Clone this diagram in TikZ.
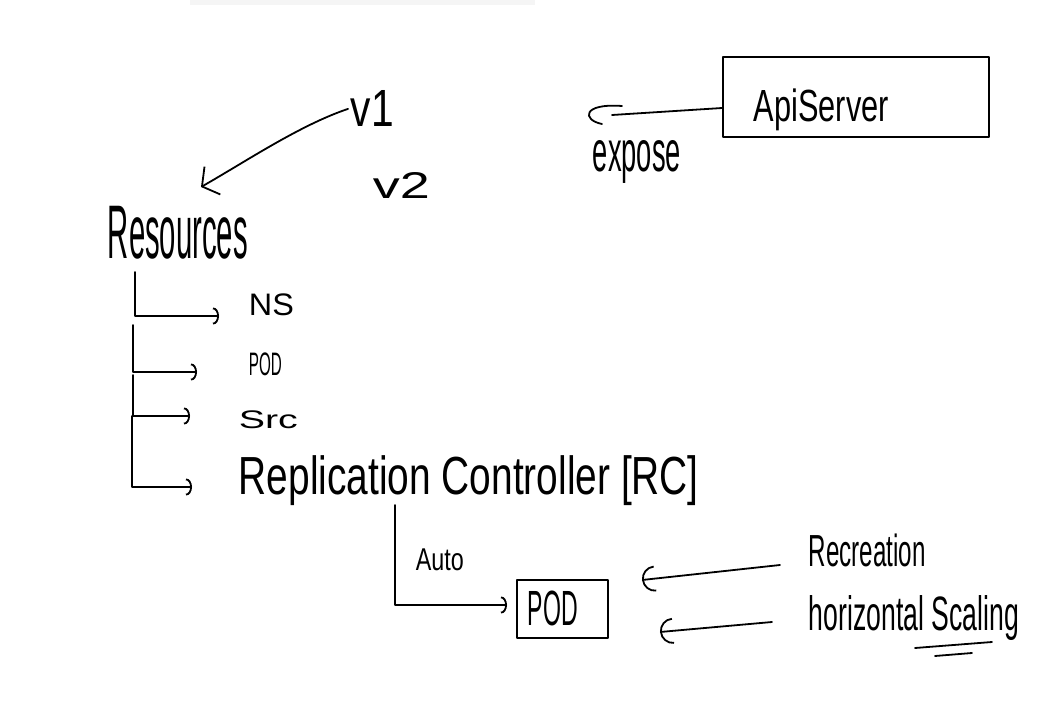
\documentclass[tikz,border=0pt]{standalone}
\usepackage{fontspec}
\setmainfont{Liberation Sans}
\usetikzlibrary{arrows.meta}
\newcommand\hw[3]{\resizebox*{#1}{#2}{#3}}
\begin{document}
\begin{tikzpicture}[x=1pt,y=-1pt, line width=1.8pt, line cap=round, line join=round,
  txt/.style={inner sep=0pt, anchor=north west},
  hookarrow/.style={-{Arc Barb[length=6pt,width=17pt]}},
  openhead/.style={-{Arc Barb[length=13pt,width=26pt]}},
  chev/.style={-{Straight Barb[length=12pt,width=32pt]}},
  boxed/.style={draw, inner sep=0pt}]
\fill[white] (0,0) rectangle (1050,704);
\useasboundingbox (0,0) rectangle (1050,704);
\fill[black!4] (190,0) rectangle (535,5);

% texts
\node[txt] (v1) at (350,90) {\hw{43pt}{36pt}{v1}};
\node[txt] (v2) at (372,172) {\hw{57pt}{26pt}{v2}};
\node[txt] (res) at (107,205) {\hw{140pt}{53pt}{Resources}};
\node[txt] (ns) at (248,293) {\hw{45pt}{22pt}{NS}};
\node[txt] (pod1) at (248,352) {\hw{33pt}{23pt}{POD}};
\node[txt] (src) at (238,410) {\hw{59pt}{18pt}{Src}};
\node[txt] (rc) at (238,455) {\hw{460pt}{50pt}{Replication Controller [RC]}};
\node[txt] (auto) at (415,548) {\hw{48pt}{22pt}{Auto}};
\node[txt] (pod2) at (527,590) {\hw{50pt}{35pt}{POD}};
\node[txt] (rec) at (808,533) {\hw{117pt}{33pt}{Recreation}};
\node[txt] (hs) at (808,595) {\hw{210pt}{45pt}{horizontal Scaling}};
\node[txt] (api) at (753,88) {\hw{135pt}{42pt}{ApiServer}};
\node[txt] (expose) at (592,140) {\hw{88pt}{43pt}{expose}};

% boxes
\node[boxed, minimum width=266pt, minimum height=80pt] (apibox) at (856,97) {};
\node[boxed, minimum width=91pt, minimum height=58pt] (podbox) at (562.5,609) {};

% v1 -> resources
\coordinate (resTip) at (201,187);
\draw[chev] ([xshift=-2pt]v1.west) .. controls (300,125) and (245,162) .. (resTip);

% tree
\coordinate (t1) at (135,272); \coordinate (e1) at (219,316);
\coordinate (t2) at (133,325); \coordinate (e2) at (197,372);
\coordinate (t3) at (133,375); \coordinate (e3) at (190,416);
\coordinate (t4) at (132,416); \coordinate (e4) at (192,487);
\draw[hookarrow] (t1) |- (e1);
\draw[hookarrow] (t2) |- (e2);
\draw[hookarrow] (t3) |- (e3);
\draw[hookarrow] (t4) |- (e4);

% RC -> POD
\coordinate (rcDrop) at (395,505);
\coordinate (autoEnd) at (507,605);
\draw[hookarrow] (rcDrop) |- (autoEnd);

% expose
\coordinate (expEnd) at (612,115);
\draw ([yshift=-11pt]apibox.west) -- (expEnd);
\draw (622,106) .. controls (582,103) and (582,120) .. (602,124);

% recreation / scaling
\coordinate (recStart) at (780,565); \coordinate (recTip) at (642,580);
\coordinate (hsStart) at (772,622); \coordinate (hsTip) at (660,632);
\draw[openhead] (recStart) -- (recTip);
\draw[openhead] (hsStart) -- (hsTip);

% underline of Scaling
\draw (915,648) -- (992,642);
\draw (935,656) -- (972,653);
\end{tikzpicture}
\end{document}
